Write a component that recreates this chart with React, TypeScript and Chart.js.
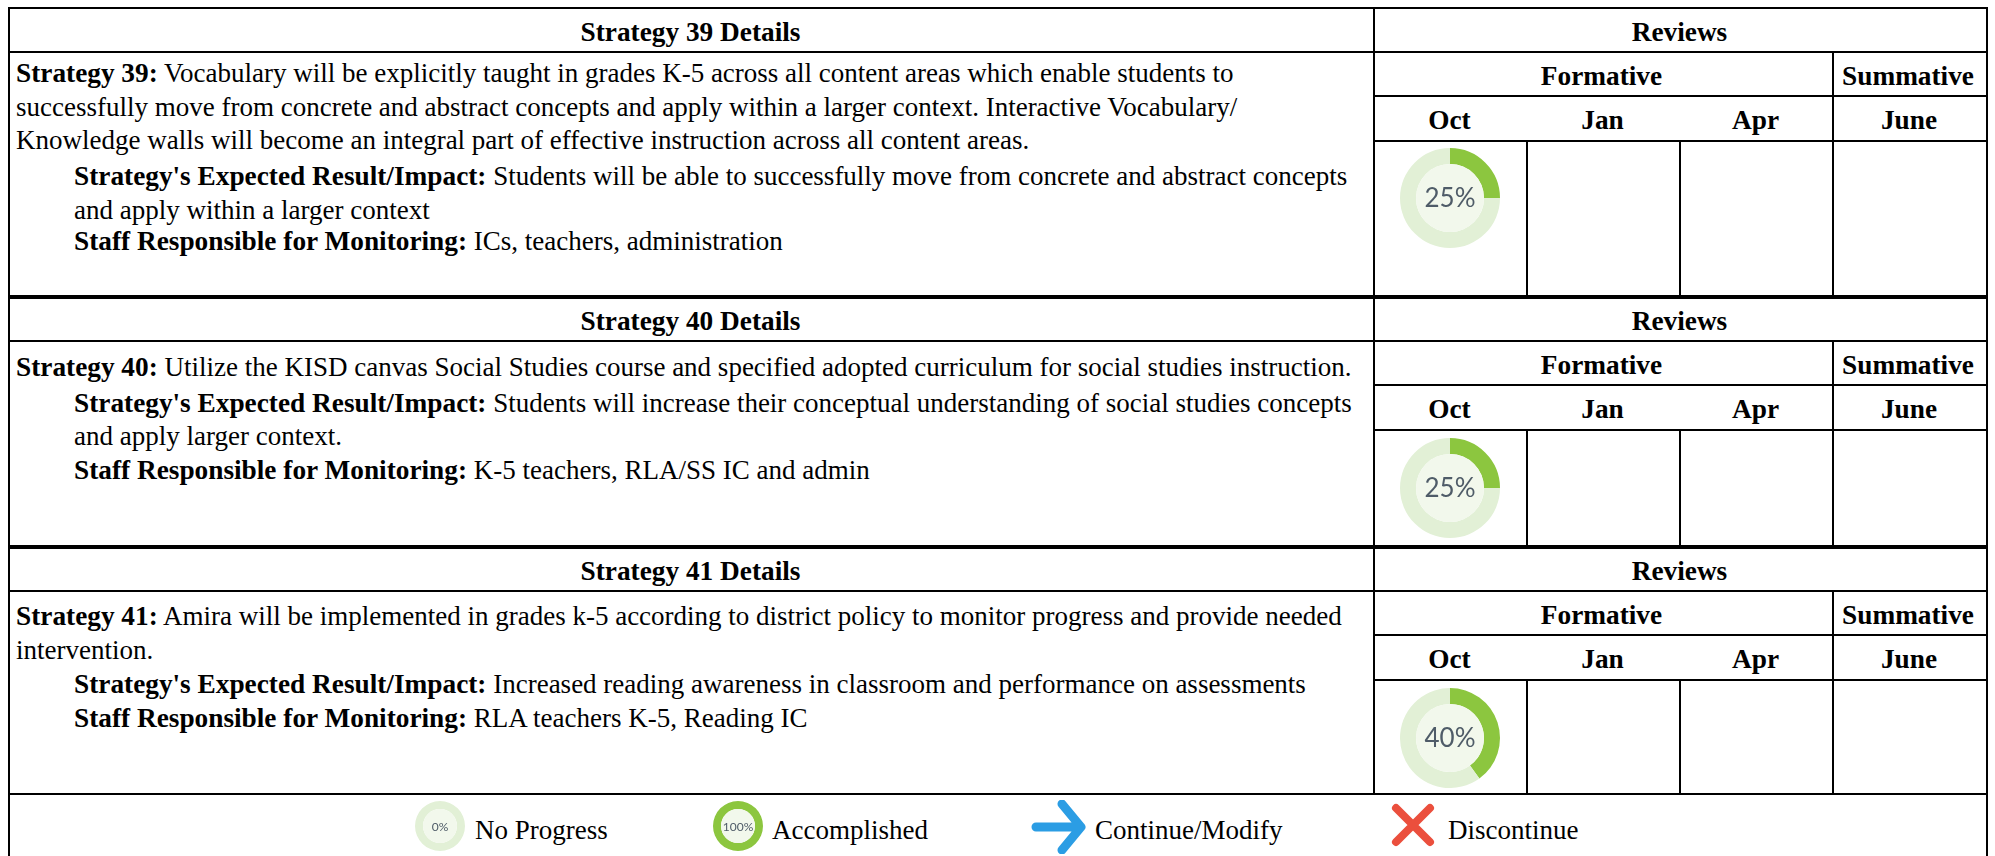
import React, { useEffect, useRef } from "react";
import { Chart, registerables } from "chart.js";

Chart.register(...registerables);

const months = ["Oct", "Jan", "Apr", "June"];
const strategyNumbers = [39, 40, 41];
const octProgress = [25, 25, 40];
const legendProgress = [0, 100];
const legendLabels = ["No Progress", "Accomplished", "Continue/Modify", "Discontinue"];

const strategyLines = [
  [
    ["Strategy 39:", " Vocabulary will be explicitly taught in grades K-5 across all content areas which enable students to"],
    ["", "successfully move from concrete and abstract concepts and apply within a larger context. Interactive Vocabulary/"],
    ["", "Knowledge walls will become an integral part of effective instruction across all content areas."],
  ],
  [["Strategy 40:", " Utilize the KISD canvas Social Studies course and specified adopted curriculum for social studies instruction."]],
  [
    ["Strategy 41:", " Amira will be implemented in grades k-5 according to district policy to monitor progress and provide needed"],
    ["", "intervention."],
  ],
];
const impactLines = [
  [
    ["Strategy's Expected Result/Impact:", " Students will be able to successfully move from concrete and abstract concepts"],
    ["", "and apply within a larger context"],
  ],
  [
    ["Strategy's Expected Result/Impact:", " Students will increase their conceptual understanding of social studies concepts"],
    ["", "and apply larger context."],
  ],
  [["Strategy's Expected Result/Impact:", " Increased reading awareness in classroom and performance on assessments"]],
];
const staffLines = [
  ["Staff Responsible for Monitoring:", " ICs, teachers, administration"],
  ["Staff Responsible for Monitoring:", " K-5 teachers, RLA/SS IC and admin"],
  ["Staff Responsible for Monitoring:", " RLA teachers K-5, Reading IC"],
];

const FONT = "'Liberation Serif', 'Times New Roman', serif";
const FS = 27;
const BOLD_FS = 27.3;
const bodyBottoms = [296, 546, 794];
const lineX = { left: 8, split: 1373, a: 1526, b: 1679, c: 1832, right: 1986 };

const centerPlugin = {
  id: "centerDisc",
  afterDraw(chart: any) {
    const meta = chart.getDatasetMeta(0).data[0];
    if (!meta) return;
    const { x, y, innerRadius } = meta;
    const ctx = chart.ctx;
    const pct = chart.data.datasets[0].data[0];
    ctx.save();
    ctx.fillStyle = "#f2f8ec";
    ctx.beginPath();
    ctx.arc(x, y, innerRadius, 0, Math.PI * 2);
    ctx.fill();
    const fs = chart.options.plugins.centerDisc.fontSize;
    ctx.font = `${fs}px Lato, 'Open Sans', sans-serif`;
    ctx.fillStyle = "#4f5c68";
    ctx.textAlign = "center";
    ctx.textBaseline = "middle";
    ctx.fillText(pct + "%", x, y + 1);
    ctx.restore();
  },
};

function Ring({ value, size, fontSize, left, top }: { value: number; size: number; fontSize: number; left: number; top: number }) {
  const ref = useRef<HTMLCanvasElement>(null);
  useEffect(() => {
    const chart = new Chart(ref.current!, {
      type: "doughnut",
      data: {
        labels: ["Done", "Remaining"],
        datasets: [
          {
            data: [value, 100 - value],
            backgroundColor: ["#8cc63f", "#e2f0d6"],
            borderWidth: 0,
          },
        ],
      },
      options: {
        animation: false,
        responsive: false,
        cutout: "68%",
        layout: { padding: 0 },
        plugins: { legend: { display: false }, tooltip: { enabled: false }, centerDisc: { fontSize } } as any,
      },
      plugins: [centerPlugin],
    });
    return () => chart.destroy();
  }, [value, size, fontSize]);
  return <canvas ref={ref} width={size} height={size} style={{ position: "absolute", left, top, width: size, height: size }} />;
}

function HLine({ y, x1, x2, h = 2 }: { y: number; x1: number; x2: number; h?: number }) {
  return <div style={{ position: "absolute", left: x1, top: y, width: x2 - x1, height: h, background: "#000" }} />;
}
function VLine({ x, y1, y2, w = 2 }: { x: number; y1: number; y2: number; w?: number }) {
  return <div style={{ position: "absolute", left: x, top: y1, width: w, height: y2 - y1, background: "#000" }} />;
}
function Centered({ x1, x2, y, text }: { x1: number; x2: number; y: number; text: string }) {
  return (
    <div style={{ position: "absolute", left: x1, width: x2 - x1, top: y, lineHeight: "34px", textAlign: "center", fontWeight: 700, fontSize: BOLD_FS, whiteSpace: "nowrap" }}>
      {text}
    </div>
  );
}
function Line({ x, y, parts }: { x: number; y: number; parts: string[] }) {
  return (
    <div style={{ position: "absolute", left: x, top: y, lineHeight: "34px", whiteSpace: "pre" }}>
      <b style={{ fontSize: BOLD_FS }}>{parts[0]}</b>
      {parts[1]}
    </div>
  );
}

const bodyStart = [49, 54, 53];
const impactGap = [2.5, 2, 1];
const staffGap = [-2, 0, 0];
const ringTop = [141, 142, 142];

export default function App() {
  const L = lineX;
  return (
    <div style={{ position: "absolute", left: 0, top: 0, width: 1995, height: 856, overflow: "hidden", background: "#fff", fontFamily: FONT, fontSize: FS, color: "#000" }}>
      <HLine y={7} x1={L.left} x2={L.right + 2} h={2} />
      <VLine x={L.left} y1={7} y2={856} />
      <VLine x={L.right} y1={7} y2={856} />
      {strategyNumbers.map((n, i) => {
        const t = i === 0 ? 7 : i === 1 ? 296 : 546;
        const bottom = bodyBottoms[i];
        let y = t + bodyStart[i];
        const rows: React.ReactNode[] = [];
        strategyLines[i].forEach((p, k) => {
          rows.push(<Line key={"s" + k} x={16} y={y} parts={p} />);
          y += 33.5;
        });
        y += impactGap[i];
        impactLines[i].forEach((p, k) => {
          rows.push(<Line key={"i" + k} x={74} y={y} parts={p} />);
          y += 33.5;
        });
        y += staffGap[i];
        rows.push(<Line key="st" x={74} y={y} parts={staffLines[i]} />);
        return (
          <React.Fragment key={n}>
            {i > 0 && <HLine y={t - 1} x1={L.left} x2={L.right + 2} h={4} />}
            <HLine y={t + 44} x1={L.left} x2={L.right + 2} />
            <VLine x={L.split} y1={t} y2={bottom} />
            <HLine y={t + 88} x1={L.split} x2={L.right} />
            <HLine y={t + 133} x1={L.split} x2={L.right} />
            <VLine x={L.c} y1={t + 44} y2={bottom} />
            <VLine x={L.a} y1={t + 133} y2={bottom} />
            <VLine x={L.b} y1={t + 133} y2={bottom} />
            <Centered x1={L.left} x2={L.split} y={t + 8} text={`Strategy ${n} Details`} />
            <Centered x1={L.split} x2={L.right} y={t + 8} text="Reviews" />
            <Centered x1={L.split} x2={L.c - 2} y={t + 52} text="Formative" />
            <Centered x1={L.c} x2={L.right - 2} y={t + 52} text="Summative" />
            {months.map((m, k) => (
              <Centered key={m} x1={[L.split, L.a, L.b, L.c][k]} x2={[L.a, L.b, L.c, L.right][k]} y={t + 96} text={m} />
            ))}
            {rows}
            <Ring value={octProgress[i]} size={100} fontSize={26} left={1400} top={t + ringTop[i]} />
          </React.Fragment>
        );
      })}
      <HLine y={793} x1={L.left} x2={L.right + 2} h={2} />
      <Ring value={legendProgress[0]} size={50} fontSize={12} left={415} top={801} />
      <Ring value={legendProgress[1]} size={50} fontSize={12} left={713} top={801} />
      <svg style={{ position: "absolute", left: 1031, top: 800, width: 56, height: 54 }} viewBox="0 0 56 54">
        <path d="M5 27 H50 M31 4 L50 27 L31 50" fill="none" stroke="#2b9de4" strokeWidth="9" strokeLinecap="round" strokeLinejoin="round" />
      </svg>
      <svg style={{ position: "absolute", left: 1390, top: 802, width: 46, height: 46 }} viewBox="0 0 46 46">
        <path d="M6 6 L40 40 M40 6 L6 40" fill="none" stroke="#eb4f3d" strokeWidth="8" strokeLinecap="round" />
      </svg>
      {legendLabels.map((t, i) => (
        <div key={t} style={{ position: "absolute", left: [475, 772, 1095, 1448][i], top: 813, lineHeight: "34px", whiteSpace: "nowrap" }}>
          {t}
        </div>
      ))}
    </div>
  );
}
